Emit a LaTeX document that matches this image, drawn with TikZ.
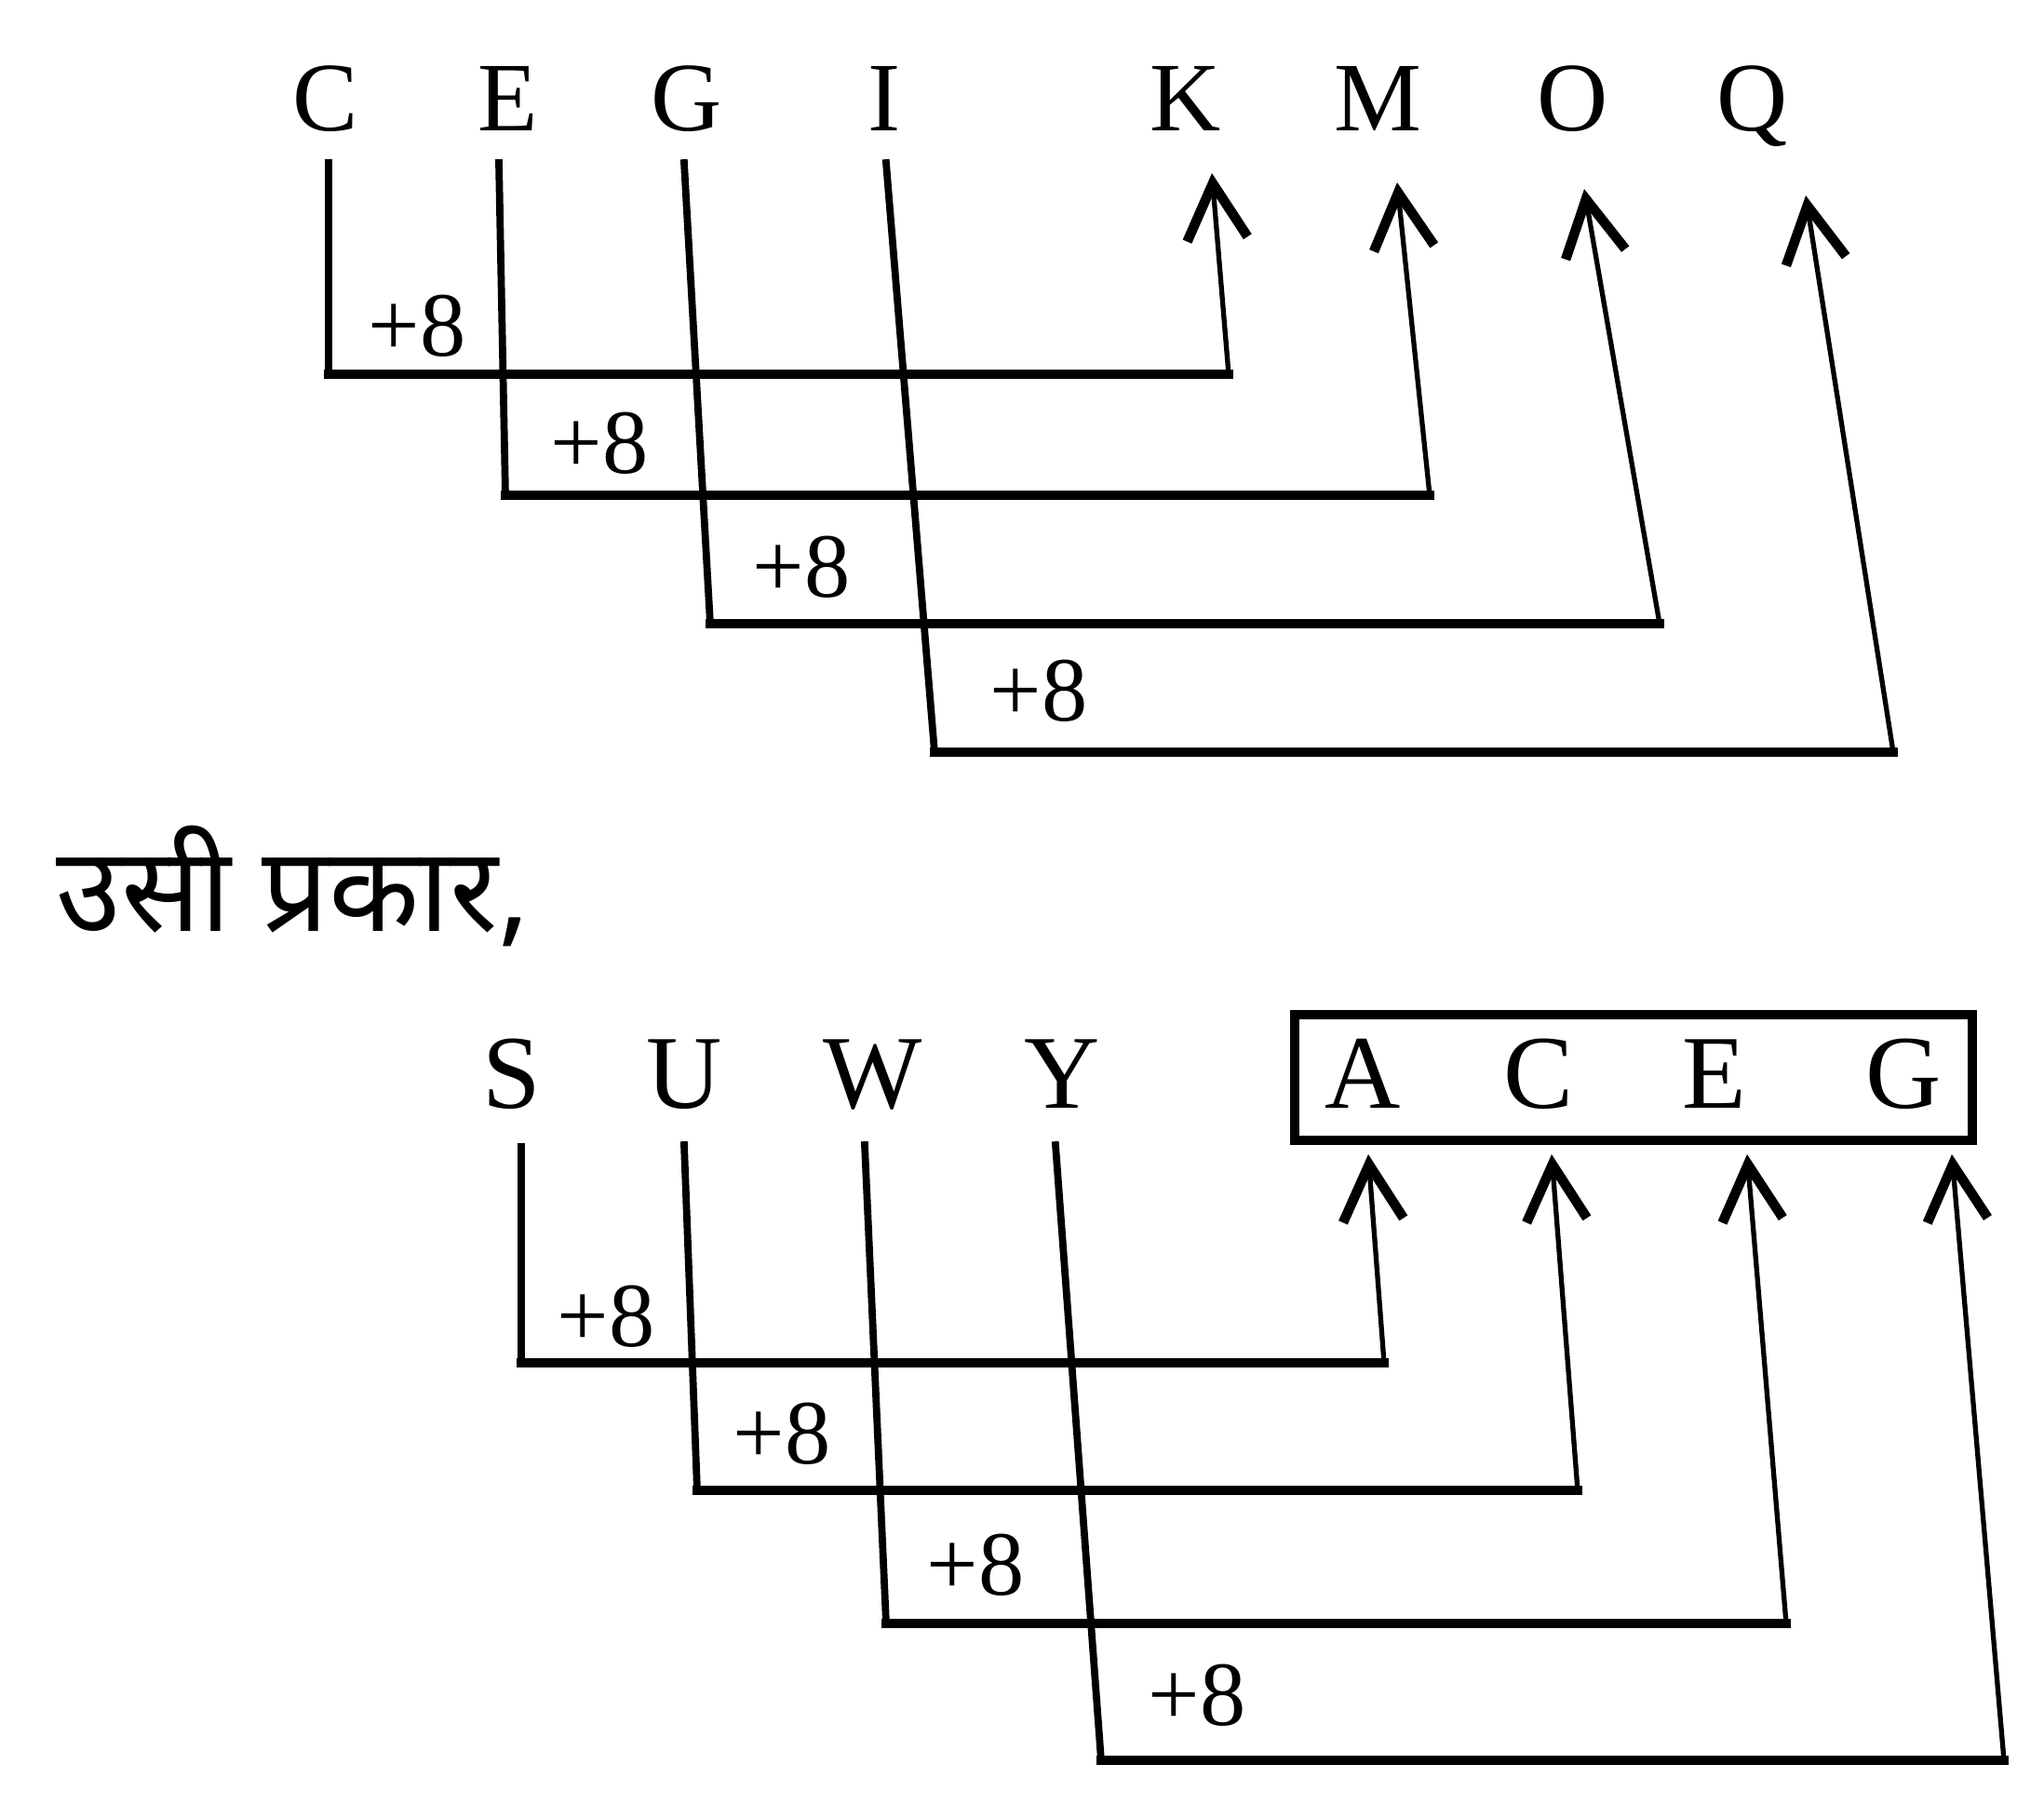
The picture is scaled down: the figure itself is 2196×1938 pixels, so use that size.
\documentclass[tikz,border=0pt]{standalone}
\usepackage{fontspec}
\setmainfont{Liberation Serif}
\newfontfamily\deva[Script=Devanagari]{Noto Sans}
\usetikzlibrary{arrows.meta}
\begin{document}
\begin{tikzpicture}[x=0.01cm,y=-0.01cm,
  ltr/.style={font=\fontsize{30}{30}\selectfont, inner sep=0pt, anchor=base},
  ltrb/.style={font=\fontsize{32}{32}\selectfont, inner sep=0pt, anchor=base},
  plus/.style={font=\fontsize{28}{28}\selectfont, inner sep=0pt},
  vline/.style={line width=2.2pt, line cap=rect},
  hline/.style={line width=3pt, line cap=rect},
  arr/.style={line width=1.5pt, -{Straight Barb[length=6mm,width=6.5mm,line width=3pt]}},
  boxline/.style={line width=2.6pt}]
\useasboundingbox (0,0) rectangle (2196,1938);
% ---------- top ----------
\node[ltr] (C) at (350,140) {C};
\node[ltr] (E) at (546,140) {E};
\node[ltr] (G) at (738,140) {G};
\node[ltr] (I) at (950,140) {I};
\node[ltr] (K) at (1274,140) {K};
\node[ltr] (M) at (1480,140) {M};
\node[ltr] (O) at (1690,140) {O};
\node[ltr] (Q) at (1883,140) {Q};
\coordinate (c0) at (353,175); \coordinate (c1) at (353,402);
\coordinate (k1) at (1320,402); \coordinate (kt) at (1302,186);
\coordinate (e0) at (536,175); \coordinate (e1) at (543,532);
\coordinate (m1) at (1536,532); \coordinate (mt) at (1501,196);
\coordinate (g0) at (735,175); \coordinate (g1) at (763,670);
\coordinate (o1) at (1783,670); \coordinate (ot) at (1702,203);
\coordinate (i0) at (952,175); \coordinate (i1) at (1004,808);
\coordinate (q1) at (2034,808); \coordinate (qt) at (1940,210);
\draw[vline] (c0) -- (c1); \draw[hline] (c1) -- (k1); \draw[arr] (k1) -- (kt);
\draw[vline] (e0) -- (e1); \draw[hline] (e1) -- (m1); \draw[arr] (m1) -- (mt);
\draw[vline] (g0) -- (g1); \draw[hline] (g1) -- (o1); \draw[arr] (o1) -- (ot);
\draw[vline] (i0) -- (i1); \draw[hline] (i1) -- (q1); \draw[arr] (q1) -- (qt);
\node[plus] (p1) at (448,350) {+8};
\node[plus] (p2) at (644,476) {+8};
\node[plus] (p3) at (861,609) {+8};
\node[plus] (p4) at (1116,742) {+8};
% ---------- hindi ----------
\node[inner sep=0pt, anchor=west, font=\deva\fontsize{36}{36}\selectfont] (hin) at (60,952) {उसी प्रकार,};
% ---------- bottom ----------
\node[ltrb] (S) at (550,1190) {S};
\node[ltrb] (U) at (735,1190) {U};
\node[ltrb] (W) at (938,1190) {W};
\node[ltrb] (Y) at (1141,1190) {Y};
\node[ltrb] (A) at (1464,1190) {A};
\node[ltrb] (C2) at (1653,1190) {C};
\node[ltrb] (E2) at (1842,1190) {E};
\node[ltrb] (G2) at (2045,1190) {G};
\draw[boxline] (1391,1090) rectangle (2119,1225);
\coordinate (s0) at (560,1232); \coordinate (s1) at (560,1464);
\coordinate (a1) at (1487,1464); \coordinate (at) at (1470,1240);
\coordinate (u0) at (735,1230); \coordinate (u1) at (749,1601);
\coordinate (cb1) at (1695,1601); \coordinate (ct) at (1667,1240);
\coordinate (w0) at (929,1230); \coordinate (w1) at (952,1744);
\coordinate (eb1) at (1919,1744); \coordinate (et) at (1877,1240);
\coordinate (y0) at (1134,1230); \coordinate (y1) at (1183,1891);
\coordinate (gb1) at (2153,1891); \coordinate (gt) at (2097,1240);
\draw[vline] (s0) -- (s1); \draw[hline] (s1) -- (a1); \draw[arr] (a1) -- (at);
\draw[vline] (u0) -- (u1); \draw[hline] (u1) -- (cb1); \draw[arr] (cb1) -- (ct);
\draw[vline] (w0) -- (w1); \draw[hline] (w1) -- (eb1); \draw[arr] (eb1) -- (et);
\draw[vline] (y0) -- (y1); \draw[hline] (y1) -- (gb1); \draw[arr] (gb1) -- (gt);
\node[plus] (q5) at (651,1414) {+8};
\node[plus] (q6) at (840,1540) {+8};
\node[plus] (q7) at (1048,1681) {+8};
\node[plus] (q8) at (1286,1821) {+8};
\end{tikzpicture}
\end{document}
